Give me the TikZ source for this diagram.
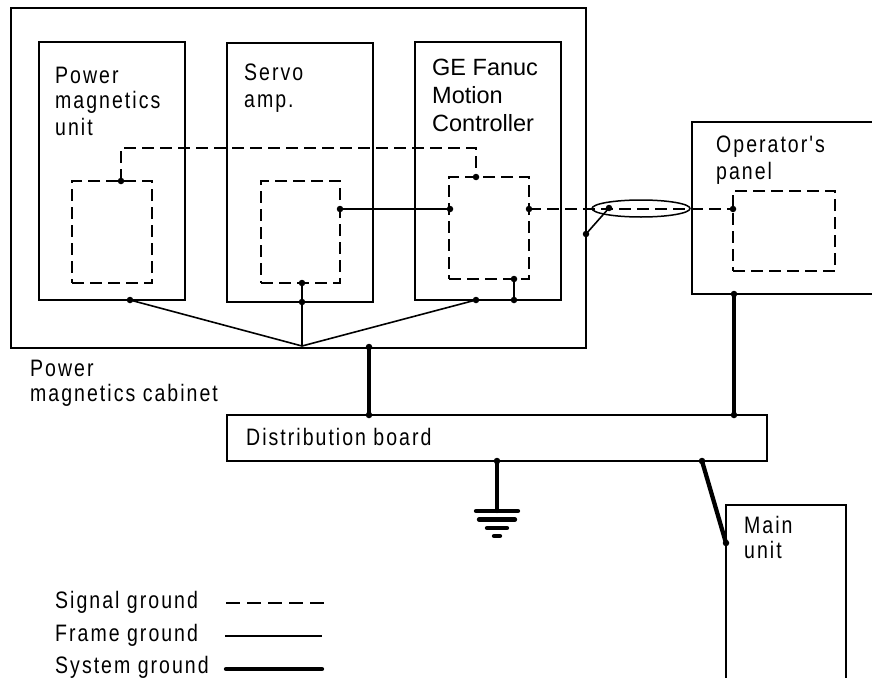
\documentclass[tikz,border=0pt]{standalone}
\usepackage{fontspec}
\setmainfont{Liberation Sans}
\newfontfamily\spc[FakeStretch=0.82,LetterSpace=8.5]{Liberation Sans}
\usetikzlibrary{shapes.geometric}
\begin{document}
\begin{tikzpicture}[x=1pt,y=-1pt,
  frame/.style={draw, line width=1.5pt, rectangle, inner sep=0pt, outer sep=0pt, anchor=north west},
  sig/.style={line width=1.1pt, dash pattern=on 12pt off 6pt},
  fg/.style={line width=1.6pt},
  sys/.style={line width=4.3pt, line cap=round},
  lbl/.style={anchor=base west, inner sep=0pt, font=\spc\fontsize{23.8}{28}\selectfont},
  lblge/.style={anchor=base west, inner sep=0pt, font=\fontsize{23.5}{28}\selectfont},
  dot/.style={circle, fill, inner sep=0pt, minimum size=6.5pt}]
\clip (0,0) rectangle (872,677);
% boxes
\node[frame, minimum width=575pt, minimum height=340pt] (cab) at (11,8) {};
\node[frame, minimum width=146pt, minimum height=258pt] (pmu) at (39,42) {};
\node[frame, minimum width=146pt, minimum height=259pt] (servo) at (227,43) {};
\node[frame, minimum width=146pt, minimum height=258pt] (ge) at (415,42) {};
\node[frame, minimum width=200pt, minimum height=172pt] (op) at (692,122) {};
\node[frame, line width=1.2pt, minimum width=540pt, minimum height=46pt] (dist) at (227,415) {};
\node[frame, line width=1.2pt, minimum width=120pt, minimum height=200pt] (main) at (726,505) {};
% inner dashed boxes
\node[frame, sig, minimum width=80pt, minimum height=102pt] (pmuI) at (72,181) {};
\node[frame, sig, minimum width=79pt, minimum height=102pt] (servoI) at (261,181) {};
\node[frame, sig, minimum width=80pt, minimum height=102pt] (geI) at (449,177) {};
\node[frame, sig, minimum width=102pt, minimum height=80pt] (opI) at (733,191) {};
% labels
\node[lbl] (t1) at (55,83) {Power};
\node[lbl] (t2) at (55,108) {magnetics};
\node[lbl] (t3) at (55,135) {unit};
\node[lbl] (t4) at (244,80) {Servo};
\node[lbl] (t5) at (244,107) {amp.};
\node[lblge] (t6) at (432,75) {GE Fanuc};
\node[lblge] (t7) at (432,103) {Motion};
\node[lblge] (t8) at (432,131) {Controller};
\node[lbl] (t9) at (716,152) {Operator's};
\node[lbl] (t10) at (716,179) {panel};
\node[lbl] (t11) at (30,376) {Power};
\node[lbl] (t12) at (30,401) {magnetics cabinet};
\node[lbl] (t13) at (246,445) {Distribution board};
\node[lbl] (t14) at (744,533) {Main};
\node[lbl] (t15) at (744,558) {unit};
\node[lbl] (t16) at (55,608) {Signal ground};
\node[lbl] (t17) at (55,641) {Frame ground};
\node[lbl] (t18) at (55,673) {System ground};
% dots
\node[dot] (pmuT) at (121,181) {};
\node[dot] (pmuB) at (130,300) {};
\node[dot] (servoR) at (340,209) {};
\node[dot] (servoIB) at (302,283) {};
\node[dot] (servoB) at (302,302) {};
\node[dot] (geT) at (476,177) {};
\node[dot] (geL) at (450,209) {};
\node[dot] (geR) at (529,209) {};
\node[dot] (geIB) at (514,279) {};
\node[dot] (geB2) at (514,300) {};
\node[dot] (geB1) at (476,300) {};
\node[dot] (shield) at (609,208) {};
\node[dot] (cabR) at (586,234) {};
\node[dot] (opL) at (733,209) {};
\node[dot] (cabB) at (369,347) {};
\node[dot] (distT1) at (369,415) {};
\node[dot] (opB) at (734,294) {};
\node[dot] (distT2) at (734,415) {};
\node[dot] (distB1) at (497,461) {};
\node[dot] (distB2) at (702,461) {};
\node[dot] (mainL) at (726,543) {};
\coordinate (junc) at (302,346);
\coordinate (gnd) at (497,511);
% cable shield
\node[draw, ellipse, line width=1.5pt, minimum width=98pt, minimum height=17pt, inner sep=0pt] (cable) at (641,208.5) {};
% signal ground
\draw[sig] (pmuT.center) -- ++(0,-33) -| (geT.center);
\draw[sig] (geR.center) -- (opL.center);
% frame ground
\draw[fg] (servoR.center) -- (geL.center);
\draw[fg] (servoIB.center) -- (servoB.center) -- (junc);
\draw[fg] (pmuB.center) -- (junc) -- (geB1.center);
\draw[fg] (geIB.center) -- (geB2.center);
\draw[fg] (shield.center) -- (cabR.center);
% system ground
\draw[sys] (cabB.center) -- (distT1.center);
\draw[sys] (opB.center) -- (distT2.center);
\draw[sys] (distB1.center) -- (gnd);
\draw[sys] (distB2.center) -- (mainL.center);
\draw[sys] ([xshift=-21pt]gnd) -- ([xshift=21pt]gnd);
\draw[sys] ([xshift=-18pt,yshift=-8.5pt]gnd) -- ([xshift=18pt,yshift=-8.5pt]gnd);
\draw[sys] ([xshift=-10pt,yshift=-17pt]gnd) -- ([xshift=10pt,yshift=-17pt]gnd);
\draw[sys] ([xshift=-3pt,yshift=-25pt]gnd) -- ([xshift=3pt,yshift=-25pt]gnd);
% legend
\coordinate (l1a) at (226,603); \coordinate (l1b) at (325,603);
\coordinate (l2a) at (225,636); \coordinate (l2b) at (322,636);
\coordinate (l3a) at (226,669); \coordinate (l3b) at (322,669);
\draw[sig, dash pattern=on 14pt off 7pt] (l1a) -- (l1b);
\draw[fg] (l2a) -- (l2b);
\draw[sys] (l3a) -- (l3b);
\end{tikzpicture}
\end{document}
